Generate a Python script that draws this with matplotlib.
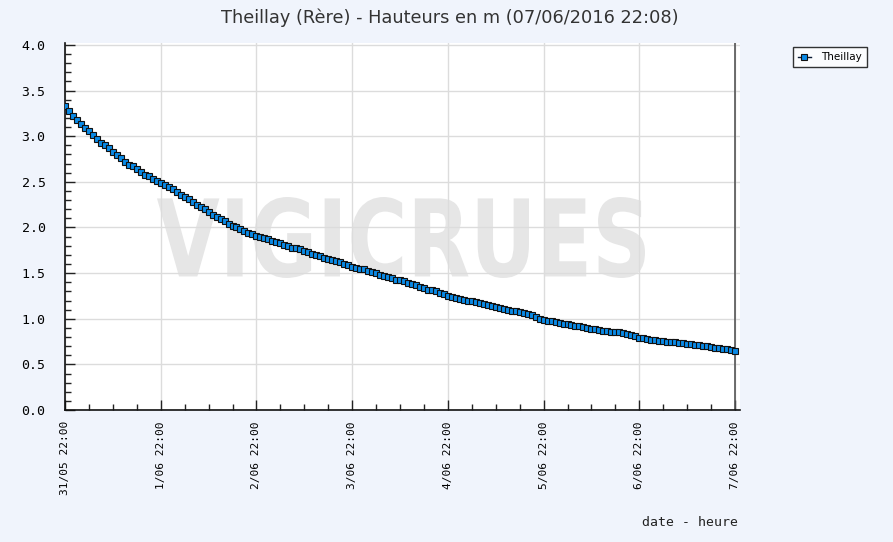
import numpy as np
import matplotlib
matplotlib.use("Agg")
import matplotlib.pyplot as plt
from matplotlib.textpath import TextPath
from matplotlib.patches import PathPatch
from matplotlib.font_manager import FontProperties
import matplotlib.transforms as mtransforms

# hourly water heights (m), from 31/05 22:00 to 7/06 22:00
day1 = [3.33, 3.28, 3.22, 3.18, 3.13, 3.09, 3.06, 3.01, 2.97, 2.93, 2.90, 2.87, 2.83,
        2.79, 2.76, 2.72, 2.69, 2.67, 2.64, 2.61, 2.58, 2.56, 2.53, 2.51, 2.49]
day2 = [2.47, 2.44, 2.42, 2.39, 2.36, 2.33, 2.31, 2.28, 2.25, 2.23, 2.20, 2.17,
        2.14, 2.12, 2.09, 2.07, 2.04, 2.02, 2.00, 1.98, 1.96, 1.94, 1.93, 1.91]
day3 = [1.90, 1.88, 1.87, 1.85, 1.84, 1.83, 1.81, 1.80, 1.78, 1.77, 1.76, 1.74,
        1.73, 1.71, 1.70, 1.69, 1.67, 1.66, 1.64, 1.63, 1.62, 1.60, 1.59, 1.57]
day4 = [1.56, 1.55, 1.54, 1.52, 1.51, 1.50, 1.48, 1.47, 1.46, 1.45, 1.43, 1.42,
        1.41, 1.39, 1.38, 1.37, 1.35, 1.34, 1.32, 1.31, 1.30, 1.28, 1.27, 1.25]
day5 = [1.24, 1.23, 1.22, 1.21, 1.20, 1.19, 1.18, 1.17, 1.16, 1.15, 1.14, 1.13,
        1.12, 1.11, 1.10, 1.09, 1.08, 1.07, 1.06, 1.05, 1.04, 1.02, 1.00, 0.99]
day6 = [0.98, 0.97, 0.96, 0.95, 0.94, 0.94, 0.93, 0.92, 0.92, 0.91, 0.90, 0.89,
        0.89, 0.88, 0.87, 0.87, 0.86, 0.85, 0.85, 0.84, 0.83, 0.82, 0.81, 0.79]
day7 = [0.79, 0.78, 0.77, 0.77, 0.76, 0.76, 0.75, 0.74, 0.74, 0.73, 0.73, 0.72,
        0.72, 0.71, 0.71, 0.70, 0.70, 0.69, 0.68, 0.68, 0.67, 0.67, 0.66, 0.65]
heights = day1 + day2 + day3 + day4 + day5 + day6 + day7
hours = np.arange(len(heights))

day_ticks = [0, 24, 48, 72, 96, 120, 144, 168]
day_labels = ["31/05 22:00", "1/06 22:00", "2/06 22:00", "3/06 22:00",
              "4/06 22:00", "5/06 22:00", "6/06 22:00", "7/06 22:00"]
y_ticks = [0.0, 0.5, 1.0, 1.5, 2.0, 2.5, 3.0, 3.5, 4.0]

W, H = 893, 542
bg = "#f0f4fc"
mono = "DejaVu Sans Mono"

fig = plt.figure(figsize=(W / 100, H / 100), dpi=100, facecolor=bg)
ax = fig.add_axes([65 / W, (H - 410) / H, (740 - 65) / W, (410 - 43) / H])
ax.set_facecolor("white")

# watermark
fp = FontProperties(family="DejaVu Sans", weight="bold")
tp = TextPath((0, 0), "VIGICRUES", size=100, prop=fp)
ext = tp.get_extents()
x0, x1 = 157, 645
y0, y1 = H - 278, H - 197
sx = (x1 - x0) / ext.width
sy = (y1 - y0) / ext.height
tr = mtransforms.Affine2D().translate(-ext.x0, -ext.y0).scale(sx, sy).translate(x0, y0)
ax.add_patch(PathPatch(tp, transform=tr, facecolor="#e6e6e6", edgecolor="none", zorder=0.5))

ax.grid(True, color="#dcdcdc", linewidth=1, zorder=1)
ax.set_axisbelow(True)
ax.axvline(168, color="#555555", linewidth=1.2, zorder=1.5)

ax.plot(hours, heights, color="#0a1a33", linewidth=1, marker="s", markersize=4.6,
        markerfacecolor="#0a8ae6", markeredgecolor="#111111", markeredgewidth=0.8,
        label="Theillay", zorder=3)

ax.set_xlim(0, 168 * 675 / 670)
ax.set_ylim(0, 4.0 * 367 / 365)
ax.set_xticks(day_ticks)
ax.set_xticklabels(day_labels, rotation=90, fontfamily=mono, fontsize=8)
ax.set_xticks(np.arange(0, 169, 6), minor=True)
ax.set_yticks(y_ticks)
ax.set_yticklabels([f"{v:.1f}" for v in y_ticks], fontfamily=mono, fontsize=9.5)
ax.set_yticks(np.arange(0, 4.01, 0.1), minor=True)
ax.tick_params(axis="both", which="major", direction="in", length=7, width=1, color="#222222")
ax.tick_params(axis="both", which="minor", direction="in", length=4, width=1, color="#222222")
ax.tick_params(axis="x", which="major", pad=8)
ax.tick_params(axis="y", which="major", pad=14)
for s in ["top", "right"]:
    ax.spines[s].set_visible(False)
for s in ["left", "bottom"]:
    ax.spines[s].set_color("#111111")
    ax.spines[s].set_linewidth(1.2)

fig.text(450 / W, 1 - 18 / H, "Theillay (Rère) - Hauteurs en m (07/06/2016 22:08)",
         ha="center", va="center", fontsize=12.8, color="#333333")
fig.text(738 / W, 1 - 522 / H, "date - heure", ha="right", va="center",
         fontfamily=mono, fontsize=9.5, color="#222222")

leg = fig.legend(loc="upper left", bbox_to_anchor=(793 / W, 1 - 47 / H),
                 fontsize=7.5, frameon=True, fancybox=False, edgecolor="black",
                 handlelength=1.2, handletextpad=1.0, borderpad=0.5, markerscale=0.9,
                 borderaxespad=0)
leg.get_frame().set_linewidth(1)
leg.get_frame().set_facecolor("white")

fig.savefig("out.png", dpi=100, facecolor=bg)
